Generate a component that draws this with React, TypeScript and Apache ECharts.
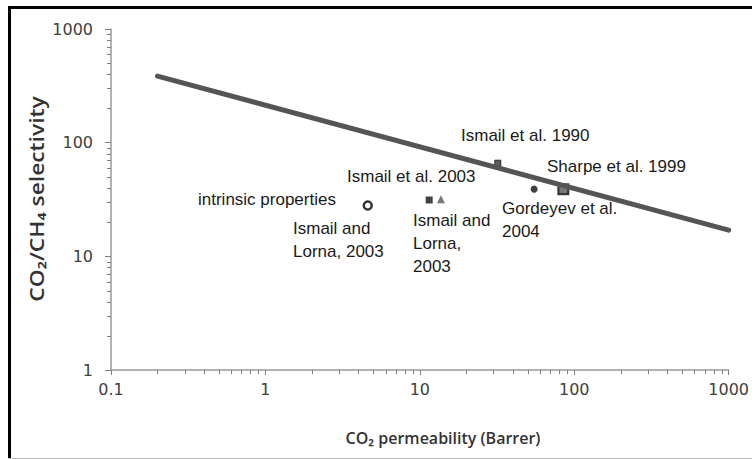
import React, { useEffect, useRef } from "react";
import * as echarts from "echarts";

// Data
const studyNames = [
  "Ismail and Lorna, 2003 (intrinsic)",
  "Ismail et al. 2003",
  "Ismail and Lorna, 2003",
  "Ismail et al. 1990",
  "Gordeyev et al. 2004",
  "Sharpe et al. 1999",
];
const permeability = [4.6, 11.5, 13.7, 32, 55, 85];
const selectivity = [28, 31.3, 31.8, 66, 39, 39];
const upperBoundX = [0.2, 1000];
const upperBoundY = [385, 17];
const xDecades = [0.1, 1, 10, 100, 1000];
const yDecades = [1, 10, 100, 1000];
const minorMultipliers = [2, 3, 4, 5, 6, 7, 8, 9];

const tickFont = "'DejaVu Sans', sans-serif";
const titleFont = "'Open Sans', 'DejaVu Sans', sans-serif";
const noteFont = "'Liberation Sans', Arial, sans-serif";
const axisGray = "#9a9a9a";
const tickGray = "#808080";

export default function App() {
  const ref = useRef<HTMLDivElement>(null);
  useEffect(() => {
    if (!ref.current) return;
    const chart = echarts.init(ref.current, null, { renderer: "svg" });
    const markerStyles = [
      { symbol: "circle", symbolSize: 8, itemStyle: { color: "#ffffff", borderColor: "#000", borderWidth: 2.5 } },
      { symbol: "rect", symbolSize: 7, itemStyle: { color: "#111" } },
      { symbol: "triangle", symbolSize: 8, itemStyle: { color: "#555" } },
      { symbol: "rect", symbolSize: 6, itemStyle: { color: "#333", borderColor: "#111", borderWidth: 1 } },
      { symbol: "circle", symbolSize: 7, itemStyle: { color: "#111" } },
      { symbol: "rect", symbolSize: 10, itemStyle: { color: "#555", borderColor: "#111", borderWidth: 2 } },
    ];
    const points = permeability.map((x, i) => ({
      name: studyNames[i],
      value: [x, selectivity[i]],
      ...markerStyles[i],
    }));
    const note = (text: string, x: number, y: number) => ({
      type: "text",
      left: x,
      top: y,
      style: { text, font: `17px ${noteFont}`, fill: "#1a1a1a", lineHeight: 23 },
    });
    const baseGraphics: any[] = [
      { type: "line", shape: { x1: 8, y1: 7.5, x2: 752, y2: 7.5 }, style: { stroke: "#000", lineWidth: 3 } },
      { type: "line", shape: { x1: 9.5, y1: 6, x2: 9.5, y2: 459 }, style: { stroke: "#000", lineWidth: 3 } },
      { type: "line", shape: { x1: 8, y1: 458.5, x2: 752, y2: 458.5 }, style: { stroke: "#bbbbbb", lineWidth: 1 } },
      note("Ismail et al. 1990", 461, 123.5),
      note("Sharpe et al. 1999", 547, 154.5),
      note("Ismail et al. 2003", 347, 164.5),
      note("intrinsic properties", 198, 187.5),
      note("Ismail and\nLorna, 2003", 293, 216.5),
      note("Ismail and\nLorna,\n2003", 413, 208.5),
      note("Gordeyev et al.\n2004", 502, 196.5),
      {
        type: "text",
        x: 443,
        y: 438,
        style: {
          text: "CO₂ permeability (Barrer)",
          font: `600 16px ${titleFont}`,
          fill: "#333",
          align: "center",
          verticalAlign: "middle",
        },
      },
      {
        type: "text",
        x: 37,
        y: 199,
        rotation: Math.PI / 2,
        scaleX: 1.2,
        style: {
          text: "CO₂/CH₄ selectivity",
          font: `600 19px ${titleFont}`,
          fill: "#333",
          align: "center",
          verticalAlign: "middle",
        },
      },
    ];
    chart.setOption({
      animation: false,
      backgroundColor: "#ffffff",
      grid: { left: 111, right: 20, top: 29, bottom: 89, containLabel: false },
      xAxis: {
        type: "log",
        logBase: 10,
        min: 0.1,
        max: 1000,
        axisLine: { show: true, lineStyle: { color: axisGray, width: 1.5 } },
        axisTick: { show: true, length: 5, lineStyle: { color: tickGray, width: 1 } },
        splitLine: { show: false },
        axisLabel: {
          color: "#404040",
          fontSize: 16,
          fontFamily: tickFont,
          margin: 11,
          formatter: (v: number) => String(v),
        },
      },
      yAxis: {
        type: "log",
        logBase: 10,
        min: 1,
        max: 1000,
        axisLine: { show: true, lineStyle: { color: axisGray, width: 1.5 } },
        axisTick: { show: true, length: 6, lineStyle: { color: tickGray, width: 1 } },
        splitLine: { show: false },
        axisLabel: {
          color: "#404040",
          fontSize: 16,
          fontFamily: tickFont,
          margin: 18,
          formatter: (v: number) => String(v),
        },
      },
      series: [
        {
          type: "scatter",
          data: points,
          z: 3,
        },
        {
          type: "line",
          data: upperBoundX.map((x, i) => [x, upperBoundY[i]]),
          symbol: "none",
          lineStyle: { color: "#555555", width: 5, cap: "round" },
          z: 4,
        },
      ],
      graphic: baseGraphics,
    });

    // Minor log ticks placed through the axes' own scales
    const tickLines: any[] = [];
    xDecades.slice(0, -1).forEach((d) => {
      minorMultipliers.forEach((m) => {
        const p = chart.convertToPixel({ gridIndex: 0 }, [d * m, 1]) as number[];
        const x = Math.round(p[0]) + 0.5;
        tickLines.push({
          type: "line",
          silent: true,
          z: 10,
          shape: { x1: x, y1: p[1], x2: x, y2: p[1] + 4 },
          style: { stroke: tickGray, lineWidth: 1 },
        });
      });
    });
    yDecades.slice(0, -1).forEach((d) => {
      minorMultipliers.forEach((m) => {
        const p = chart.convertToPixel({ gridIndex: 0 }, [0.1, d * m]) as number[];
        const y = Math.round(p[1]) + 0.5;
        tickLines.push({
          type: "line",
          silent: true,
          z: 10,
          shape: { x1: p[0] - 4, y1: y, x2: p[0], y2: y },
          style: { stroke: tickGray, lineWidth: 1 },
        });
      });
    });
    chart.setOption({ graphic: [...baseGraphics, ...tickLines] });
    return () => chart.dispose();
  }, []);
  return (
    <div
      ref={ref}
      style={{ position: "absolute", left: 0, top: 0, width: 752, height: 459 }}
    />
  );
}
